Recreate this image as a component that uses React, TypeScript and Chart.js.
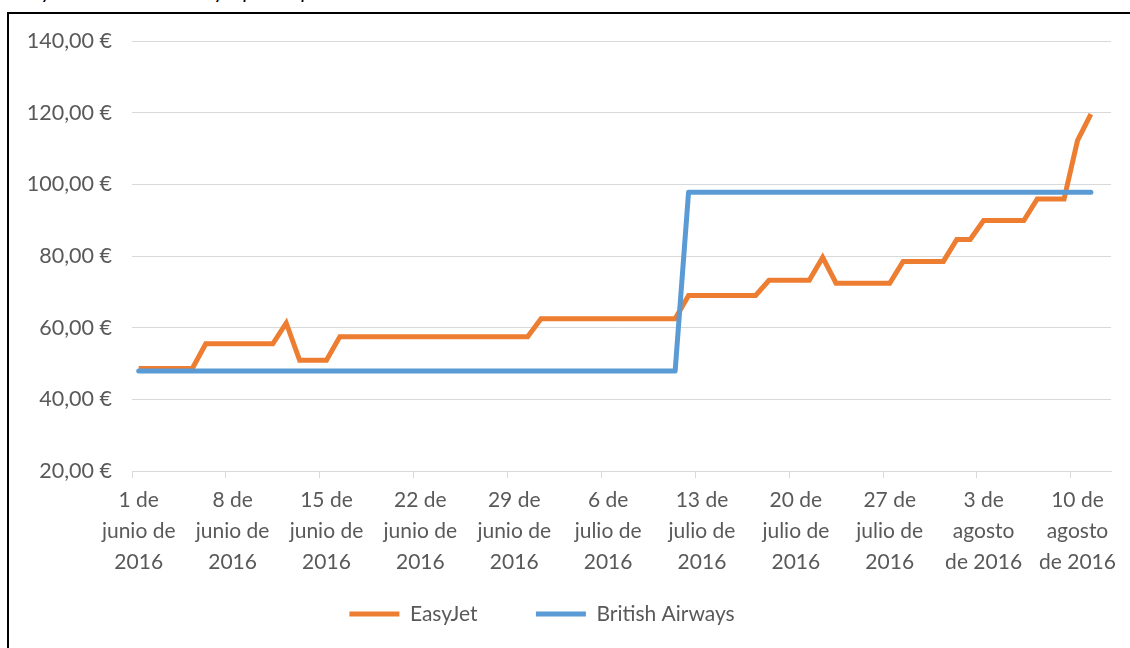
import { useEffect, useRef } from 'react';
import { Chart, registerables } from 'chart.js';

Chart.register(...registerables);

// Daily categories: 1 June 2016 .. 12 August 2016 (axis runs one day past the data)
const startDate = new Date(2016, 5, 1);
const dayCount = 73;
const days: string[] = [];
for (let i = 0; i < dayCount; i++) {
  const d = new Date(startDate.getTime());
  d.setDate(startDate.getDate() + i);
  days.push(d.toISOString().slice(0, 10));
}

const tickLabels: string[][] = [
  ['1 de', 'junio de', '2016'],
  ['8 de', 'junio de', '2016'],
  ['15 de', 'junio de', '2016'],
  ['22 de', 'junio de', '2016'],
  ['29 de', 'junio de', '2016'],
  ['6 de', 'julio de', '2016'],
  ['13 de', 'julio de', '2016'],
  ['20 de', 'julio de', '2016'],
  ['27 de', 'julio de', '2016'],
  ['3 de', 'agosto', 'de 2016'],
  ['10 de', 'agosto', 'de 2016'],
];

const easyJet: number[] = [
  48.6, 48.6, 48.6, 48.6, 48.6,
  55.5, 55.5, 55.5, 55.5, 55.5, 55.5,
  61.3,
  50.9, 50.9, 50.9,
  57.5, 57.5, 57.5, 57.5, 57.5, 57.5, 57.5, 57.5, 57.5, 57.5, 57.5, 57.5, 57.5, 57.5, 57.5,
  62.5, 62.5, 62.5, 62.5, 62.5, 62.5, 62.5, 62.5, 62.5, 62.5, 62.5,
  69, 69, 69, 69, 69, 69,
  73.2, 73.2, 73.2, 73.2,
  79.6,
  72.4, 72.4, 72.4, 72.4, 72.4,
  78.5, 78.5, 78.5, 78.5,
  84.6, 84.6,
  89.9, 89.9, 89.9, 89.9,
  95.9, 95.9, 95.9,
  112.2,
  119.6,
];

const britishAirways: number[] = [
  47.9, 47.9, 47.9, 47.9, 47.9, 47.9, 47.9, 47.9, 47.9, 47.9,
  47.9, 47.9, 47.9, 47.9, 47.9, 47.9, 47.9, 47.9, 47.9, 47.9,
  47.9, 47.9, 47.9, 47.9, 47.9, 47.9, 47.9, 47.9, 47.9, 47.9,
  47.9, 47.9, 47.9, 47.9, 47.9, 47.9, 47.9, 47.9, 47.9, 47.9,
  47.9,
  97.8, 97.8, 97.8, 97.8, 97.8, 97.8, 97.8, 97.8, 97.8, 97.8,
  97.8, 97.8, 97.8, 97.8, 97.8, 97.8, 97.8, 97.8, 97.8, 97.8,
  97.8, 97.8, 97.8, 97.8, 97.8, 97.8, 97.8, 97.8, 97.8, 97.8,
  97.8,
];

const seriesNames = ['EasyJet', 'British Airways'];
const ORANGE = '#ED7D31';
const BLUE = '#5B9BD5';
const TEXT = '#595959';
const GRID = '#D9D9D9';
const FONT = 'Lato, "Open Sans", sans-serif';
const LEGEND_FONT_SIZE = 21;

// Pad a legend label with trailing spaces so that the legend items are spread like Excel's.
function padLegendText(text: string, extraPx: number): string {
  const ctx = document.createElement('canvas').getContext('2d');
  if (!ctx) return text;
  ctx.font = `${LEGEND_FONT_SIZE}px ${FONT}`;
  const w = ctx.measureText(' ').width || 5;
  return text + ' '.repeat(Math.max(0, Math.round(extraPx / w)));
}

export default function App() {
  const canvasRef = useRef<HTMLCanvasElement | null>(null);

  useEffect(() => {
    const canvas = canvasRef.current;
    if (!canvas) return;
    const legendTexts = [padLegendText(seriesNames[0], 28), padLegendText(seriesNames[1], 28)];
    const chart = new Chart(canvas, {
      type: 'line',
      data: {
        labels: days,
        datasets: [
          {
            label: seriesNames[1],
            data: britishAirways,
            borderColor: BLUE,
            backgroundColor: BLUE,
            borderWidth: 5,
            borderCapStyle: 'round',
            borderJoinStyle: 'round',
            pointRadius: 0,
            tension: 0,
          },
          {
            label: seriesNames[0],
            data: easyJet,
            borderColor: ORANGE,
            backgroundColor: ORANGE,
            borderWidth: 5,
            borderCapStyle: 'butt',
            borderJoinStyle: 'miter',
            pointRadius: 0,
            tension: 0,
          },
        ],
      },
      options: {
        responsive: false,
        animation: false,
        events: [],
        layout: { padding: { left: 0, right: 19, top: 41, bottom: 13.5 } },
        plugins: {
          tooltip: { enabled: false },
          legend: {
            position: 'bottom',
            labels: {
              boxWidth: 50,
              boxHeight: 5,
              padding: 31.5,
              color: TEXT,
              font: { family: FONT, size: LEGEND_FONT_SIZE },
              generateLabels: () => [
                {
                  text: legendTexts[0],
                  fillStyle: ORANGE,
                  strokeStyle: ORANGE,
                  lineWidth: 0,
                  fontColor: TEXT,
                  datasetIndex: 1,
                },
                {
                  text: legendTexts[1],
                  fillStyle: BLUE,
                  strokeStyle: BLUE,
                  lineWidth: 0,
                  fontColor: TEXT,
                  datasetIndex: 0,
                },
              ],
            },
          },
        },
        scales: {
          x: {
            type: 'category',
            offset: true,
            afterFit: (scale: any) => {
              scale.height = 101;
            },
            border: { display: true, color: GRID, width: 1 },
            grid: {
              offset: true,
              drawOnChartArea: false,
              drawTicks: true,
              tickLength: 7,
              color: (ctx: any) => (ctx.index % 7 === 0 ? GRID : 'rgba(0,0,0,0)'),
            },
            ticks: {
              autoSkip: false,
              maxRotation: 0,
              minRotation: 0,
              padding: 7,
              color: TEXT,
              font: { family: FONT, size: 21, lineHeight: 1.476 },
              callback: (_v: any, i: number) => (i % 7 === 0 ? tickLabels[i / 7] : ''),
            },
          },
          y: {
            min: 20,
            max: 140,
            afterFit: (scale: any) => {
              scale.width = 132;
            },
            border: { display: false },
            grid: { color: GRID, lineWidth: 1, drawTicks: false },
            ticks: {
              stepSize: 20,
              padding: 20,
              color: TEXT,
              font: { family: FONT, size: 21.5 },
              callback: (v: any) => Number(v).toFixed(2).replace('.', ',') + ' €',
            },
          },
        },
      },
    } as any);
    return () => chart.destroy();
  }, []);

  return (
    <div
      style={{
        position: 'fixed',
        left: 0,
        top: 0,
        width: 1130,
        height: 648,
        overflow: 'hidden',
        background: '#fff',
      }}
    >
      <div
        style={{
          position: 'absolute',
          left: 12,
          top: -21,
          fontFamily: FONT,
          fontStyle: 'italic',
          fontSize: 21,
          lineHeight: '21px',
          color: '#000',
          whiteSpace: 'nowrap',
        }}
      >
        EasyJet vs British Airways: precio por día
      </div>
      <div
        style={{
          position: 'absolute',
          left: 7,
          top: 12,
          width: 1200,
          height: 700,
          border: '2px solid #000',
          boxSizing: 'border-box',
        }}
      />
      <canvas
        ref={canvasRef}
        width={1130}
        height={648}
        style={{ position: 'absolute', left: 0, top: 0, width: 1130, height: 648 }}
      />
    </div>
  );
}
